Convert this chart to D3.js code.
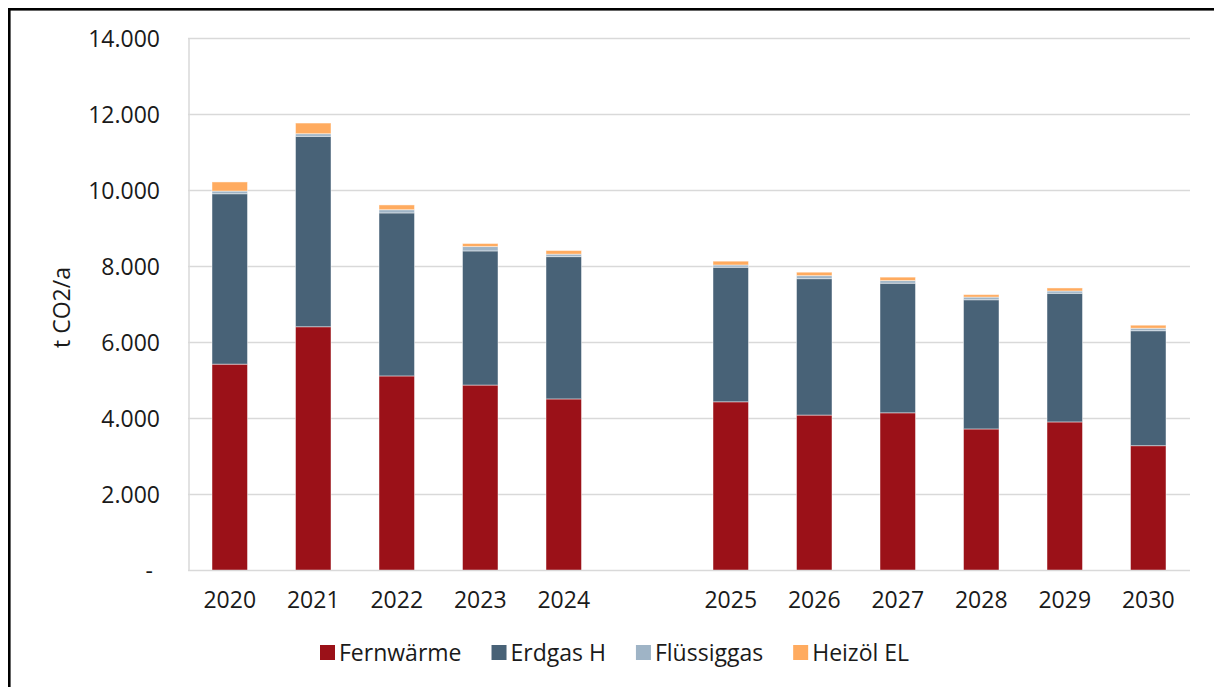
<!DOCTYPE html>
<html>
<head>
  <meta charset="utf-8">
  <script src="https://d3js.org/d3.v7.min.js"></script>
  <style>
    body { margin: 0; background: #fff; }
    text { font-family: "Open Sans", "Noto Sans", sans-serif; fill: #1a1a1a; }
  </style>
</head>
<body>
<div id="chart"></div>
<script>
  // Values (t CO2 per year)
  var years      = ["2020", "2021", "2022", "2023", "2024", "2025", "2026", "2027", "2028", "2029", "2030"];
  var fernwaerme = [5430, 6415, 5120, 4880, 4515, 4440, 4090, 4150, 3725, 3910, 3285];
  var erdgasH    = [4485, 5010, 4290, 3530, 3745, 3540, 3590, 3410, 3400, 3385, 3025];
  var fluessig   = [70, 70, 85, 115, 65, 60, 80, 70, 70, 60, 65];
  var heizoel    = [240, 280, 125, 80, 95, 100, 90, 90, 65, 80, 80];
  var yTicks     = [0, 2000, 4000, 6000, 8000, 10000, 12000, 14000];

  var seriesNames  = ["Fernwärme", "Erdgas H", "Flüssiggas", "Heizöl EL"];
  var seriesColors = ["#9b1118", "#486277", "#9fb4c6", "#ffab5f"];
  var seriesValues = [fernwaerme, erdgasH, fluessig, heizoel];

  var W = 1214, H = 687;
  var plotLeft = 188, plotRight = 1190, plotTop = 38.5, plotBottom = 570.5;

  var svg = d3.select("#chart").append("svg")
      .attr("width", W)
      .attr("height", H);

  // table for the stack layout
  var rows = years.map(function(yr, i) {
    var r = { year: yr };
    seriesNames.forEach(function(s, k) { r[s] = seriesValues[k][i]; });
    return r;
  });
  var stacked = d3.stack().keys(seriesNames)(rows);

  // an empty slot sits between 2024 and 2025
  var domain = years.slice(0, 5).concat(["gap"], years.slice(5));
  var x = d3.scaleBand().domain(domain).range([plotLeft, plotRight])
      .paddingInner(0.575).paddingOuter(0.2875);
  var y = d3.scaleLinear().domain([0, 14000]).range([plotBottom, plotTop]);

  // gridlines
  svg.append("g")
    .selectAll("line")
    .data(yTicks.slice(1))
    .join("line")
      .attr("x1", plotLeft).attr("x2", plotRight)
      .attr("y1", function(d) { return y(d); })
      .attr("y2", function(d) { return y(d); })
      .attr("stroke", "#d9d9d9")
      .attr("stroke-width", 1.5);

  // y axis line
  svg.append("line")
    .attr("x1", plotLeft + 1).attr("x2", plotLeft + 1)
    .attr("y1", plotTop).attr("y2", plotBottom)
    .attr("stroke", "#d9d9d9").attr("stroke-width", 1.5);

  // stacked bars
  svg.append("g")
    .selectAll("g")
    .data(stacked)
    .join("g")
      .attr("fill", function(d, i) { return seriesColors[i]; })
    .selectAll("rect")
    .data(function(d) { return d; })
    .join("rect")
      .attr("x", function(d) { return x(d.data.year); })
      .attr("width", x.bandwidth())
      .attr("y", function(d) { return y(d[1]); })
      .attr("height", function(d) { return y(d[0]) - y(d[1]); })
      .attr("stroke", "rgba(255,255,255,0.45)")
      .attr("stroke-width", 1);

  // x axis line
  svg.append("line")
    .attr("x1", plotLeft).attr("x2", plotRight)
    .attr("y1", plotBottom).attr("y2", plotBottom)
    .attr("stroke", "#d9d9d9").attr("stroke-width", 1.5);

  // y tick labels
  var fmt = d3.formatLocale({ decimal: ",", thousands: ".", grouping: [3], currency: ["", "€"] }).format(",.0f");
  svg.append("g")
    .selectAll("text")
    .data(yTicks)
    .join("text")
      .attr("x", function(d) { return d === 0 ? 153 : 160; })
      .attr("y", function(d) { return y(d); })
      .attr("dy", "0.35em")
      .attr("text-anchor", "end")
      .style("font-size", "23px")
      .text(function(d) { return d === 0 ? "-" : fmt(d); });

  // x tick labels
  svg.append("g")
    .selectAll("text")
    .data(years)
    .join("text")
      .attr("x", function(d) { return x(d) + x.bandwidth() / 2; })
      .attr("y", 608)
      .attr("text-anchor", "middle")
      .style("font-size", "23px")
      .text(function(d) { return d; });

  // y axis title
  svg.append("text")
    .attr("transform", "translate(70," + ((plotTop + plotBottom) / 2 + 3) + ") rotate(-90)")
    .attr("text-anchor", "middle")
    .style("font-size", "23px")
    .text("t CO2/a");

  // legend
  var legend = svg.append("g").attr("transform", "translate(320,653)");
  var lx = 0;
  seriesNames.forEach(function(name, i) {
    var item = legend.append("g").attr("transform", "translate(" + lx + ",0)");
    item.append("rect")
      .attr("x", 0).attr("y", -8)
      .attr("width", 15).attr("height", 15)
      .attr("fill", seriesColors[i]);
    var t = item.append("text")
      .attr("x", 19).attr("y", 0)
      .attr("dy", "0.35em")
      .style("font-size", "23px")
      .text(name);
    lx += 19 + t.node().getComputedTextLength() + 30;
  });

  // outer frame, runs off the right and bottom edge like the reference
  svg.append("rect")
    .attr("x", 9.3).attr("y", 9.3)
    .attr("width", W + 20).attr("height", H + 20)
    .attr("fill", "none")
    .attr("stroke", "#000")
    .attr("stroke-width", 2.6);
</script>
</body>
</html>
